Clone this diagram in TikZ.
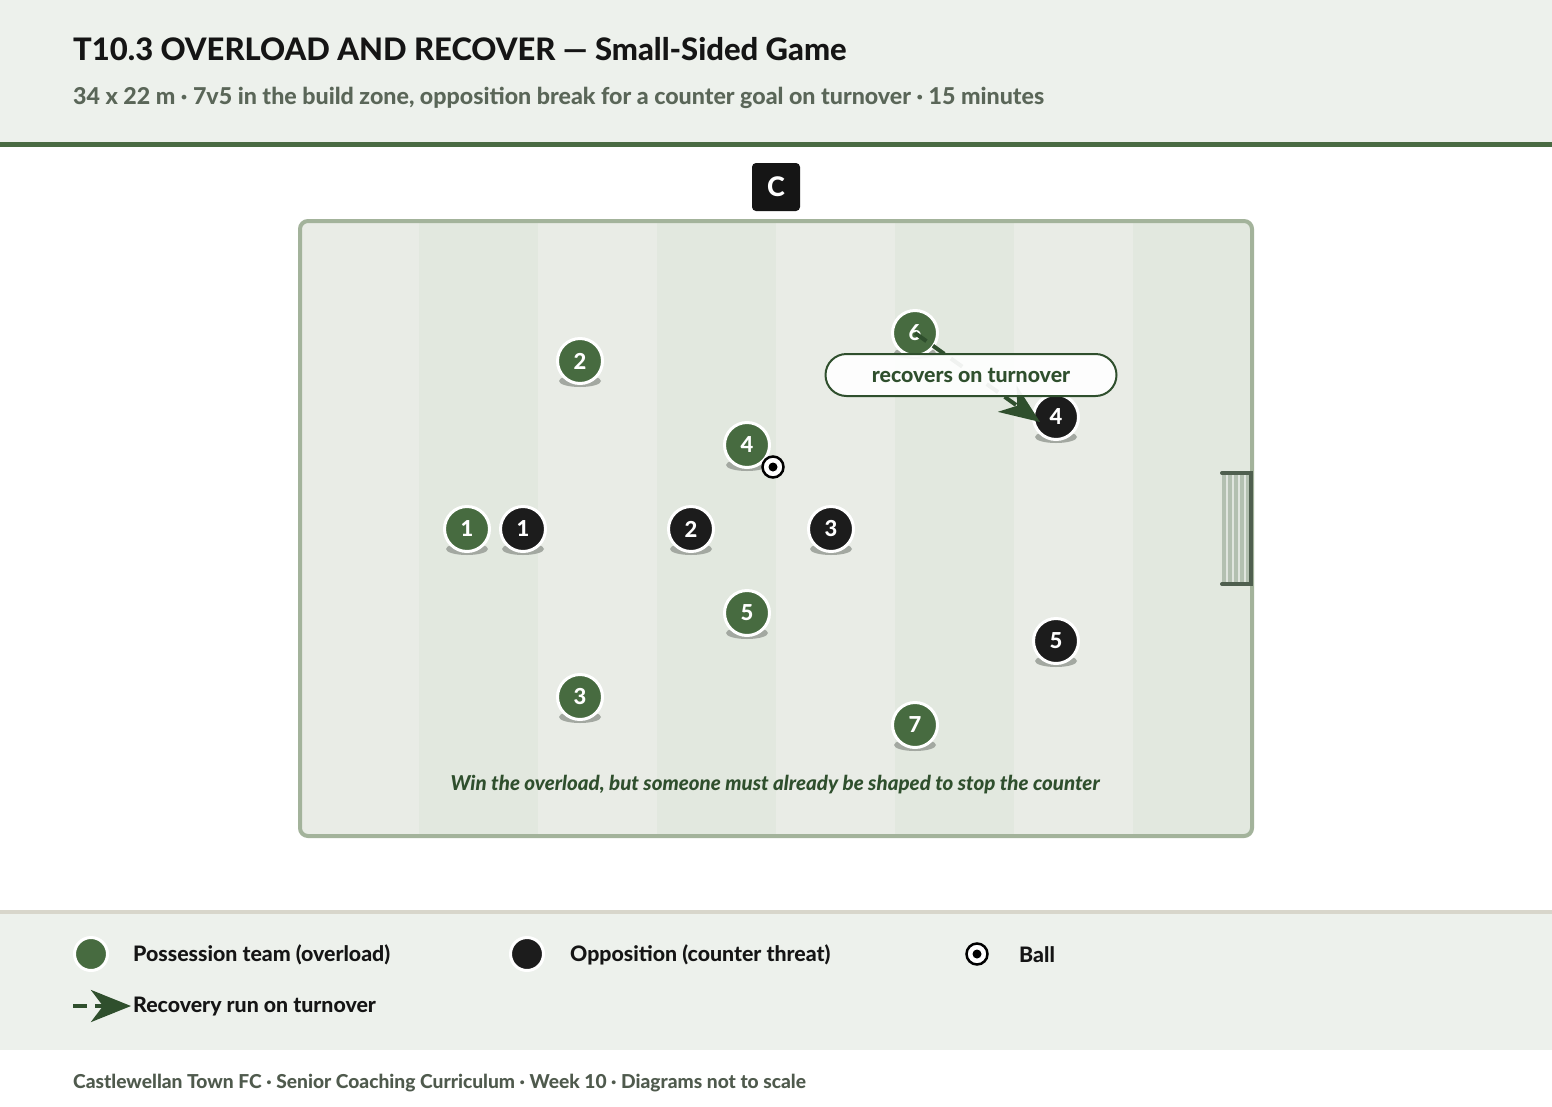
\documentclass[tikz,border=0pt]{standalone}
\usepackage{fontspec}
\setmainfont{Lato}[BoldFont={Lato Heavy},BoldItalicFont={Lato Heavy Italic}]
\usetikzlibrary{arrows.meta,shapes.geometric}
\definecolor{headbg}{HTML}{EDF1EC}
\definecolor{accent}{HTML}{4A6B43}
\definecolor{titlec}{HTML}{151515}
\definecolor{subc}{HTML}{5A6658}
\definecolor{stripeA}{HTML}{E9ECE6}
\definecolor{stripeB}{HTML}{E2E8DF}
\definecolor{pitchline}{HTML}{A3B39B}
\definecolor{goalframe}{HTML}{4F5F4F}
\definecolor{goalnet}{HTML}{B3C0B1}
\definecolor{gplay}{HTML}{476B40}
\definecolor{bplay}{HTML}{1C1C1C}
\definecolor{shadowc}{HTML}{A3A8A1}
\definecolor{rung}{HTML}{2F4F2D}
\definecolor{tanline}{HTML}{D8D6CB}
\definecolor{footc}{HTML}{4F5A4D}
\begin{document}
\begin{tikzpicture}[x=1pt,y=-1pt,
  gplayer/.style={circle,fill=gplay,draw=white,line width=3pt,minimum size=45pt,inner sep=0pt,text=white,font=\bfseries\fontsize{22}{26}\selectfont},
  bplayer/.style={gplayer,fill=bplay},
  ballnode/.style={circle,fill=white,draw=black,line width=2.5pt,minimum size=21pt,inner sep=0pt},
  coachbox/.style={rectangle,rounded corners=4pt,fill=titlec,minimum size=48pt,inner sep=0pt,text=white,font=\bfseries\fontsize{27}{31}\selectfont},
  calloutbox/.style={rectangle,rounded corners=21pt,fill=white,fill opacity=0.93,text opacity=1,draw=rung,line width=2pt,minimum width=291pt,minimum height=42pt,text=rung,font=\bfseries\fontsize{21.3}{25}\selectfont},
  runarrow/.style={draw=rung,line width=4pt,dash pattern=on 14pt off 8pt,-{Stealth[length=40pt,width=32pt,inset=12pt]}},
  legtext/.style={anchor=west,text=titlec,font=\bfseries\fontsize{21.3}{25}\selectfont,inner sep=0pt}
]
\useasboundingbox (0,0) rectangle (1552,1106);
\fill[white] (0,0) rectangle (1552,1106);
% header
\fill[headbg] (0,0) rectangle (1552,142);
\fill[accent] (0,142) rectangle (1552,147);
\node[anchor=base west,inner sep=0pt,text=titlec,font=\bfseries\fontsize{31}{36}\selectfont] (title) at (73,60) {T10.3 OVERLOAD AND RECOVER — Small-Sided Game};
\node[anchor=base west,inner sep=0pt,text=subc,font=\bfseries\fontsize{23.2}{27}\selectfont] (subtitle) at (73,104) {34 x 22 m · 7v5 in the build zone, opposition break for a counter goal on turnover · 15 minutes};
% pitch
\begin{scope}
\clip[rounded corners=8pt] (300,221) rectangle (1252,836);
\foreach \i in {0,...,7} {
  \pgfmathtruncatemacro{\odd}{mod(\i,2)}
  \ifnum\odd=0 \fill[stripeA] (300+119*\i,221) rectangle (419+119*\i,836);
  \else \fill[stripeB] (300+119*\i,221) rectangle (419+119*\i,836); \fi
}
\end{scope}
\draw[pitchline,line width=4pt,rounded corners=8pt] (300,221) rectangle (1252,836);
% goal
\fill[goalnet] (1222,473) rectangle (1251,584);
\foreach \gx in {1227,1233,1239,1245} \draw[white,opacity=0.6,line width=1.2pt] (\gx,475) -- (\gx,582);
\draw[goalframe,line width=4pt,line cap=round] (1222,473) -- (1251,473) -- (1251,584) -- (1222,584);
% coach
\node[coachbox] (coach) at (776,187) {C};
% caption
\node[text=rung,font=\bfseries\itshape\fontsize{20.5}{24}\selectfont] (caption) at (775,785) {Win the overload, but someone must already be shaped to stop the counter};
% players
\foreach \n/\x/\y/\l in {g2/580/361/2,g4/747/445/4,g1/467/529/1,g5/747/613/5,g3/580/697/3,g7/915/725/7,g6/915/333/6} {
  \fill[shadowc] (\x,\y+20) ellipse (21 and 6);
  \node[gplayer] (\n) at (\x,\y) {\l};
}
\foreach \n/\x/\y/\l in {b1/523/529/1,b2/691/529/2,b3/831/529/3,b4/1056/417/4,b5/1056/641/5} {
  \fill[shadowc] (\x,\y+20) ellipse (21 and 6);
  \node[bplayer] (\n) at (\x,\y) {\l};
}
% ball
\node[ballnode] (ball) at (773,467) {};
\fill[black] (ball.center) circle (4.5);
% recovery run
\coordinate (runend) at (1040,422);
\draw[runarrow] (g6.center) -- (runend);
\node[calloutbox] (callout) at (971,375) {recovers on turnover};
% legend
\fill[tanline] (0,910) rectangle (1552,914);
\fill[headbg] (0,914) rectangle (1552,1050);
\node[circle,fill=gplay,draw=white,line width=3pt,minimum size=33pt,inner sep=0pt] (leggreen) at (91,954) {};
\node[legtext] (leggreentext) at (133,955) {Possession team (overload)};
\node[circle,fill=bplay,draw=white,line width=3pt,minimum size=33pt,inner sep=0pt] (legblack) at (527,954) {};
\node[legtext] (legblacktext) at (570,955) {Opposition (counter threat)};
\node[ballnode] (legball) at (977,954) {};
\fill[black] (legball.center) circle (4.5);
\node[legtext] (legballtext) at (1019,955) {Ball};
\coordinate (legrunstart) at (73,1006);
\coordinate (legrunend) at (131,1006);
\draw[runarrow] (legrunstart) -- (legrunend);
\node[legtext] (legruntext) at (133,1007) {Recovery run on turnover};
% footer
\node[anchor=base west,inner sep=0pt,text=footc,font=\bfseries\fontsize{19.2}{23}\selectfont] (footer) at (73,1088) {Castlewellan Town FC · Senior Coaching Curriculum · Week 10 · Diagrams not to scale};
\end{tikzpicture}
\end{document}
